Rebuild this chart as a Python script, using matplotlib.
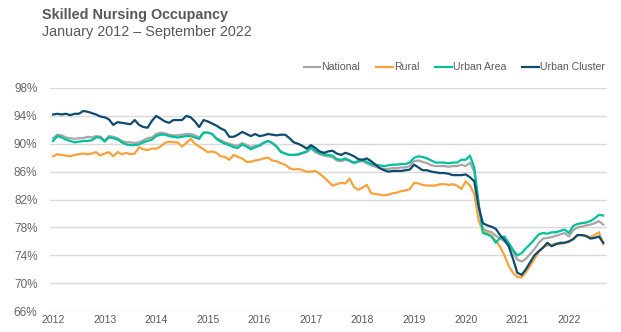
import matplotlib
matplotlib.use("Agg")
import matplotlib.pyplot as plt
import numpy as np

plt.rcParams['font.family'] = ['Liberation Sans', 'DejaVu Sans']

# monthly occupancy (%), Jan 2012 - Sep 2022
national = [
    90.8, 91.3, 91.2, 90.9, 90.8, 90.7, 90.8, 90.8, 91.0, 90.9, 91.1, 91.0,  # 2012
    90.5, 91.1, 91.0, 90.8, 90.4, 90.2, 90.2, 90.1, 90.2, 90.5, 90.8, 90.9,  # 2013
    91.4, 91.6, 91.5, 91.3, 91.2, 91.2, 91.3, 91.4, 91.4, 91.2, 90.9, 91.6,  # 2014
    91.6, 91.4, 90.8, 90.5, 90.2, 90.0, 89.8, 89.7, 90.1, 89.8, 89.5, 89.7,  # 2015
    89.8, 90.2, 90.4, 90.1, 89.6, 88.9, 88.6, 88.4, 88.4, 88.4, 88.6, 88.8,  # 2016
    89.3, 88.8, 88.5, 88.3, 88.2, 88.1, 87.6, 87.5, 87.7, 87.5, 87.2, 87.4,  # 2017
    87.5, 87.2, 86.9, 86.7, 86.5, 86.4, 86.4, 86.5, 86.5, 86.6, 86.6, 86.8,  # 2018
    87.5, 87.6, 87.4, 87.2, 86.9, 86.8, 86.8, 86.8, 86.7, 86.8, 86.8, 87.0,  # 2019
    86.8, 87.3, 86.0, 81.0, 77.8, 77.5, 77.3, 76.8, 76.4, 76.0, 75.5, 74.5,  # 2020
    73.4, 73.1, 73.5, 74.2, 74.9, 75.8, 76.4, 76.5, 76.6, 76.8, 77.0, 77.2,  # 2021
    76.7, 77.6, 78.0, 78.1, 78.3, 78.4, 78.6, 78.9, 78.4,                    # 2022
]
rural = [
    88.2, 88.5, 88.4, 88.3, 88.2, 88.4, 88.5, 88.6, 88.5, 88.6, 88.8, 88.3,
    88.6, 88.8, 88.2, 88.8, 88.5, 88.7, 88.5, 88.6, 89.5, 89.2, 89.1, 89.3,
    89.3, 89.6, 90.1, 90.3, 90.2, 90.2, 89.6, 90.1, 90.7, 90.0, 89.6, 89.2,
    88.8, 88.9, 88.7, 88.2, 88.1, 87.7, 88.4, 88.1, 87.9, 87.4, 87.4, 87.6,
    87.7, 87.9, 88.0, 87.6, 87.5, 87.2, 87.0, 86.5, 86.3, 86.4, 86.2, 86.0,
    86.0, 86.1, 85.7, 85.2, 84.6, 84.0, 84.2, 84.4, 84.3, 85.0, 83.8, 83.4,
    83.7, 84.1, 82.9, 82.8, 82.7, 82.6, 82.7, 82.9, 83.0, 83.2, 83.3, 83.5,
    84.4, 84.3, 84.1, 84.0, 84.0, 84.0, 84.2, 84.2, 84.1, 84.2, 84.0, 83.5,
    84.6, 84.0, 82.8, 79.0, 77.5, 77.2, 76.8, 76.1, 75.2, 74.0, 72.5, 71.5,
    70.9, 70.8, 71.6, 72.5, 73.5, 74.5, 75.2, 75.4, 75.5, 75.7, 75.6, 75.8,
    75.9, 76.4, 76.9, 76.9, 76.7, 76.6, 76.9, 77.3, 75.6,
]
urban_area = [
    90.4, 91.1, 90.9, 90.6, 90.4, 90.2, 90.3, 90.4, 90.4, 90.5, 90.9, 90.9,
    90.3, 90.9, 90.8, 90.6, 90.2, 89.9, 89.8, 89.8, 89.9, 90.2, 90.4, 90.6,
    91.1, 91.3, 91.3, 91.1, 91.0, 90.9, 91.0, 91.1, 91.1, 90.9, 90.7, 91.6,
    91.6, 91.4, 90.7, 90.3, 90.0, 89.8, 89.5, 89.4, 89.9, 89.6, 89.2, 89.5,
    89.7, 90.1, 90.4, 90.1, 89.6, 88.8, 88.6, 88.4, 88.4, 88.5, 88.7, 88.9,
    89.5, 89.0, 88.7, 88.5, 88.4, 88.3, 87.8, 87.7, 87.9, 87.6, 87.3, 87.5,
    87.7, 87.4, 87.1, 87.0, 86.9, 86.8, 86.9, 87.0, 87.0, 87.1, 87.1, 87.3,
    88.0, 88.2, 88.1, 87.9, 87.6, 87.3, 87.3, 87.3, 87.2, 87.3, 87.3, 87.7,
    87.7, 88.3, 86.6, 81.5, 77.2, 77.0, 76.7, 75.8, 76.5, 76.7, 75.8, 74.8,
    74.0, 74.3, 75.0, 75.6, 76.3, 77.0, 77.2, 77.1, 77.3, 77.3, 77.5, 77.7,
    77.2, 78.2, 78.5, 78.6, 78.7, 78.9, 79.3, 79.8, 79.7,
]
urban_cluster = [
    94.2, 94.3, 94.2, 94.3, 94.1, 94.3, 94.3, 94.7, 94.6, 94.4, 94.2, 93.9,
    93.8, 93.5, 92.7, 93.1, 93.0, 92.9, 92.8, 93.4, 92.7, 92.4, 92.3, 93.3,
    94.0, 93.6, 93.2, 93.0, 93.4, 93.4, 93.4, 94.0, 93.8, 93.2, 92.4, 93.4,
    93.2, 92.9, 92.6, 92.2, 91.9, 91.0, 91.0, 91.3, 91.7, 91.4, 91.1, 91.4,
    91.1, 91.2, 91.4, 91.3, 91.2, 91.3, 91.3, 90.8, 90.2, 90.0, 89.7, 89.3,
    89.8, 89.4, 88.9, 88.7, 88.9, 89.0, 88.6, 88.4, 88.7, 88.5, 88.2, 87.8,
    87.7, 87.9, 87.5, 87.0, 86.5, 86.2, 86.0, 86.1, 86.1, 86.1, 86.2, 86.3,
    87.0, 86.6, 86.2, 86.2, 86.0, 85.9, 85.8, 85.8, 85.7, 85.5, 85.5, 85.5,
    85.6, 85.2, 84.6, 81.0, 78.6, 78.3, 78.1, 77.8, 76.9, 76.2, 75.3, 73.5,
    71.5, 71.2, 72.0, 73.0, 74.0, 74.6, 75.1, 75.8, 75.3, 75.6, 75.8, 75.8,
    76.0, 76.3, 76.9, 76.9, 76.8, 76.4, 76.5, 76.7, 75.8,
]

series = [
    ("National", national, "#A6A6A6"),
    ("Rural", rural, "#F9A13A"),
    ("Urban Area", urban_area, "#00C19C"),
    ("Urban Cluster", urban_cluster, "#0F4A70"),
]
year_ticks = list(range(2012, 2023))
y_ticks = [66, 70, 74, 78, 82, 86, 90, 94, 98]

months = 2012 + np.arange(len(national)) / 12.0

fig = plt.figure(figsize=(6.21, 3.32), dpi=100)
ax = fig.add_axes([0.0805, 0.063, 0.897, 0.672])

for name, vals, col in series:
    ax.plot(months, vals, color=col, lw=1.6, label=name, solid_joinstyle="round")

ax.set_ylim(66, 98)
ax.set_xlim(2011.94, 2022.74)
ax.set_yticks(y_ticks)
ax.set_yticklabels([f"{v}%" for v in y_ticks], fontsize=8.5, color="#666666")
ax.set_xticks(year_ticks)
ax.set_xticklabels([str(y) for y in year_ticks], fontsize=7.5, color="#595959")
ax.tick_params(length=0)
ax.tick_params(axis="y", pad=9)
ax.tick_params(axis="x", pad=3)
ax.grid(axis="y", color="#D9D9D9", lw=1)
ax.set_axisbelow(True)
for s in ax.spines.values():
    s.set_visible(False)

fig.text(0.068, 0.955, "Skilled Nursing Occupancy", fontsize=10.4, fontweight="bold",
         color="#595959", va="center")
fig.text(0.068, 0.905, "January 2012 \u2013 September 2022", fontsize=10.4,
         color="#595959", va="center")

ax.legend(loc="center right", bbox_to_anchor=(0.99, 0.797),
          bbox_transform=fig.transFigure, ncol=4, frameon=False,
          fontsize=7.6, handlelength=1.6, handletextpad=0.1, columnspacing=1.5,
          labelcolor="#595959")

fig.savefig("out.png", dpi=100)
